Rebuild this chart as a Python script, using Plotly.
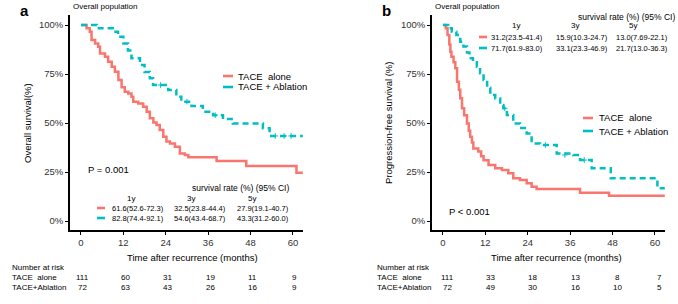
import plotly.graph_objects as go

# ---------------- data ----------------
months_ticks = [0, 12, 24, 36, 48, 60]
pct_ticks = [0, 25, 50, 75, 100]
pct_labels = ["0%", "25%", "50%", "75%", "100%"]

# Panel a: overall survival
os_alone_t = [0, 1.6, 2.5, 3.0, 4.0, 4.9, 5.4, 6.8, 7.7, 8.7, 9.6, 10.6, 11.5, 12.4, 13.4, 14.3, 14.8,
              16.2, 17.6, 18.6, 19.5, 20.5, 21.4, 22.3, 23.3, 24.2, 25.2, 26.6, 28.0, 29.4, 30.4,
              38.4, 46.8, 61.0, 62.8]
os_alone_s = [100, 98.3, 96.6, 92.3, 90.6, 88.9, 85.5, 83.8, 81.3, 78.7, 76.2, 71.9, 68.2, 66.0, 65.1,
              63.4, 60.9, 60.0, 58.3, 55.8, 52.4, 50.2, 49.0, 46.4, 43.0, 40.5, 39.6, 37.9, 34.5, 33.7,
              32.5, 30.6, 28.0, 24.6, 24.6]
os_abl_t = [0, 4.5, 9.0, 10.5, 12.0, 13.3, 14.3, 16.7, 18.0, 19.5, 20.4, 24.7, 27.0, 28.4, 31.3, 34.5,
            37.4, 40.2, 43.0, 51.5, 53.4, 62.8]
os_abl_s = [100, 98.3, 96.6, 94.0, 90.6, 87.0, 83.0, 79.6, 76.0, 72.8, 69.4, 66.8, 63.4, 60.9, 58.7,
            55.8, 54.0, 52.0, 49.8, 47.3, 43.4, 43.4]
os_abl_cens_t = [22.5, 30.0, 38.0, 55.0, 57.5, 59.5]
os_abl_cens_s = [69.4, 60.9, 54.0, 43.4, 43.4, 43.4]

# Panel b: progression-free survival
pfs_alone_t = [0, 0.8, 1.3, 1.8, 2.1, 2.4, 3.0, 3.5, 4.0, 4.5, 4.9, 5.4, 6.0, 6.8, 7.3, 7.7, 8.2, 8.6,
               10.0, 10.8, 11.5, 12.9, 14.8, 16.7, 18.5, 19.9, 21.8, 23.7, 25.1, 26.5, 38.8, 47.0, 62.8]
pfs_alone_s = [100, 98.3, 94.9, 90.0, 86.4, 83.8, 81.0, 77.9, 71.0, 67.0, 62.6, 57.5, 54.0, 49.8, 46.0,
               43.0, 40.0, 37.0, 35.4, 33.0, 31.0, 28.6, 26.9, 26.0, 24.3, 21.8, 20.9, 19.2, 17.5, 16.3,
               14.4, 12.9, 12.9]
pfs_abl_t = [0, 1.5, 2.5, 3.8, 4.9, 5.8, 6.8, 7.5, 8.5, 9.6, 10.5, 11.5, 12.5, 13.4, 14.8, 16.2, 17.1,
             18.1, 19.9, 21.8, 23.7, 25.1, 27.5, 32.2, 36.9, 38.8, 42.1, 47.5, 60.7, 62.8]
pfs_abl_s = [100, 98.3, 96.6, 94.9, 91.5, 89.0, 86.0, 83.0, 81.0, 78.7, 75.4, 71.9, 68.0, 64.3, 62.5,
             59.2, 57.5, 54.1, 49.8, 47.5, 44.7, 39.6, 38.8, 34.5, 33.7, 31.1, 26.9, 21.8, 16.7, 16.7]
pfs_abl_cens_t = [17.5, 29.0, 34.5, 40.0]
pfs_abl_cens_s = [57.5, 38.8, 33.7, 31.1]

risk_a_alone = [111, 60, 31, 19, 11, 9]
risk_a_abl = [72, 63, 43, 26, 16, 9]
risk_b_alone = [111, 33, 18, 13, 8, 7]
risk_b_abl = [72, 49, 30, 16, 10, 5]

tab_a_alone = ["61.6(52.6-72.3)", "32.5(23.8-44.4)", "27.9(19.1-40.7)"]
tab_a_abl = ["82.8(74.4-92.1)", "54.6(43.4-68.7)", "43.3(31.2-60.0)"]
tab_b_alone = ["31.2(23.5-41.4)", "15.9(10.3-24.7)", "13.0(7.69-22.1)"]
tab_b_abl = ["71.7(61.9-83.0)", "33.1(23.3-46.9)", "21.7(13.0-36.3)"]
years = ["1y", "3y", "5y"]

RED = "#F8766D"
TEAL = "#00BFC4"
FONT = "Liberation Sans, Arial, sans-serif"
W, H = 678, 304

fig = go.Figure()

def px(x):
    return x / W

def py(y):
    return 1 - y / H

# curves
for xa, ya, t, s, col, dash in [
    ("x", "y", os_alone_t, os_alone_s, RED, "solid"),
    ("x", "y", os_abl_t, os_abl_s, TEAL, "6px,4px"),
    ("x2", "y2", pfs_alone_t, pfs_alone_s, RED, "solid"),
    ("x2", "y2", pfs_abl_t, pfs_abl_s, TEAL, "6px,4px"),
]:
    fig.add_trace(go.Scatter(x=t, y=s, mode="lines", xaxis=xa, yaxis=ya,
                             line=dict(color=col, width=2.5, shape="hv", dash=dash),
                             showlegend=False, hoverinfo="skip"))

for xa, ya, t, s in [("x", "y", os_abl_cens_t, os_abl_cens_s), ("x2", "y2", pfs_abl_cens_t, pfs_abl_cens_s)]:
    fig.add_trace(go.Scatter(x=t, y=s, mode="markers", xaxis=xa, yaxis=ya,
                             marker=dict(symbol="cross-thin", size=4, line=dict(color=TEAL, width=1)),
                             showlegend=False, hoverinfo="skip"))

axis_common = dict(range=[-3.1, 62.85], tickvals=months_ticks, ticks="outside", ticklen=3, tickwidth=1.3,
                   tickcolor="black", showline=True, linecolor="black", linewidth=1.6, showgrid=False,
                   zeroline=False, tickfont=dict(family=FONT, size=9.5, color="#333333"))
yaxis_common = dict(range=[-4.59, 105.1], tickvals=pct_ticks, ticktext=pct_labels, ticks="outside", ticklen=3,
                    tickwidth=1.3, tickcolor="black", showline=True, linecolor="black", linewidth=1.6,
                    showgrid=False, zeroline=False, tickfont=dict(family=FONT, size=9.5, color="#333333"))

fig.update_layout(
    width=W, height=H, margin=dict(l=0, r=0, t=0, b=0), autosize=False,
    paper_bgcolor="white", plot_bgcolor="white",
    xaxis=dict(domain=[px(70), px(303)], anchor="y", **axis_common),
    yaxis=dict(domain=[py(230), py(15)], anchor="x", **yaxis_common),
    xaxis2=dict(domain=[px(432), px(665)], anchor="y2", **axis_common),
    yaxis2=dict(domain=[py(230), py(15)], anchor="x2", **yaxis_common),
    font=dict(family=FONT, color="black"),
)

ann = []
def txt(x, y, text, size=9.5, xanchor="center", color="black", bold=False, textangle=0):
    ann.append(dict(x=px(x), y=py(y), xref="paper", yref="paper", text=("<b>%s</b>" % text) if bold else text,
                    showarrow=False, xanchor=xanchor, yanchor="middle", textangle=textangle,
                    font=dict(family=FONT, size=size, color=color)))

shapes = []
def key(x0, x1, y, col):
    shapes.append(dict(type="line", xref="paper", yref="paper", x0=px(x0), x1=px(x1), y0=py(y), y1=py(y),
                       line=dict(color=col, width=2.6)))

# panel letters and subtitles
txt(24, 10, "a", size=15, bold=True)
txt(386, 10, "b", size=15, bold=True)
txt(71, 7, "Overall population", size=8, xanchor="left")
txt(433, 7, "Overall population", size=8, xanchor="left")

# axis titles
txt(28, 123, "Overall survival(%)", size=9.5, textangle=-90)
txt(389, 123, "Progression-free survival (%)", size=9.5, textangle=-90)
txt(192, 257, "Time after recurrence (months)", size=9.5)
txt(556, 257, "Time after recurrence (months)", size=9.5)

# legends
key(223, 233, 76, RED)
key(223, 233, 87, TEAL)
txt(236, 76, "TACE\u00a0 alone", size=9.5, xanchor="left")
txt(236, 87, "TACE + Ablation", size=9.5, xanchor="left")
key(583, 593, 118, RED)
key(583, 593, 131, TEAL)
txt(597, 118, "TACE\u00a0 alone", size=9.5, xanchor="left")
txt(597, 131, "TACE + Ablation", size=9.5, xanchor="left")

# p-values
txt(86, 169, "P = 0.001", size=9.5, xanchor="left")
txt(447, 211, "P < 0.001", size=9.5, xanchor="left")

# survival-rate tables
txt(291, 188, "survival rate (%) (95% CI)", size=8.5, xanchor="right")
for x, yv in zip([131, 191, 252], years):
    txt(x, 198, yv, size=8)
key(97, 105, 208, RED)
key(97, 105, 218, TEAL)
for x, a, b in zip([110, 172, 235], tab_a_alone, tab_a_abl):
    txt(x, 208, a, size=7.5, xanchor="left")
    txt(x, 218, b, size=7.5, xanchor="left")

txt(677, 17, "survival rate (%) (95% CI)", size=8.5, xanchor="right")
for x, yv in zip([516, 575, 633], years):
    txt(x, 26, yv, size=8)
key(479, 487, 37, RED)
key(479, 487, 48, TEAL)
for x, a, b in zip([489, 554, 614], tab_b_alone, tab_b_abl):
    txt(x, 37, a, size=7.5, xanchor="left")
    txt(x, 48, b, size=7.5, xanchor="left")

# number at risk
for x0 in [10, 375]:
    txt(x0, 267, "Number at risk", size=8, xanchor="left")
    txt(x0, 277, "TACE\u00a0 alone", size=8, xanchor="left")
    txt(x0, 287, "TACE+Ablation", size=8, xanchor="left")

for xr, shift, r1, r2 in [("x", 2, risk_a_alone, risk_a_abl), ("x2", 5, risk_b_alone, risk_b_abl)]:
    for m, v1, v2 in zip(months_ticks, r1, r2):
        for yy, v in [(277, v1), (287, v2)]:
            ann.append(dict(x=m, y=py(yy), xref=xr, yref="paper", text=str(v), showarrow=False,
                            xanchor="center", yanchor="middle", xshift=shift,
                            font=dict(family=FONT, size=8, color="black")))

fig.update_layout(annotations=ann, shapes=shapes)
fig.write_html("out.html", config={"displayModeBar": False},
               post_script="document.body.style.margin='0';document.body.style.overflow='hidden';")
